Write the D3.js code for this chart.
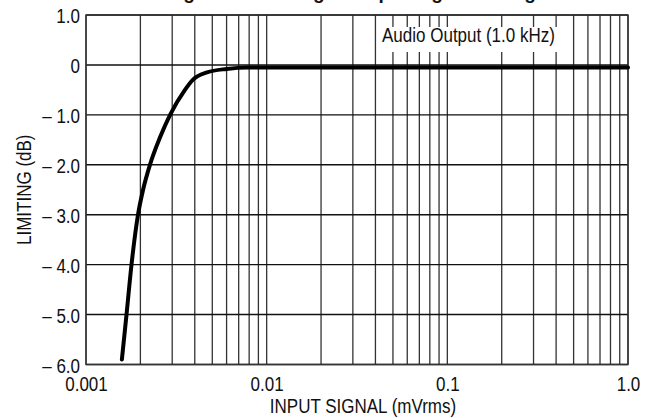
<!DOCTYPE html>
<html><head><meta charset="utf-8">
<script src="https://cdn.jsdelivr.net/npm/d3@7"></script>
<style>
html,body{margin:0;padding:0;background:#fff;}
svg{display:block;}
text{font-family:"Liberation Sans",Arial,sans-serif;fill:#111;}
</style></head>
<body>
<script>
// Data
const inputSignal = [0.00158, 0.001676, 0.001786, 0.00194, 0.00207, 0.00226, 0.00257, 0.00292, 0.00353, 0.0039, 0.00468, 0.006, 0.0078, 0.01, 0.1, 1.0];
const limitingDb  = [-5.9, -5.0, -4.0, -3.0, -2.5, -2.0, -1.45, -1.0, -0.5, -0.3, -0.15, -0.08, -0.05, -0.05, -0.05, -0.05];
const xTickValues = [0.001, 0.01, 0.1, 1.0];
const xTickLabels = ["0.001", "0.01", "0.1", "1.0"];
const yTickValues = [1, 0, -1, -2, -3, -4, -5, -6];
const yTickLabels = ["1.0", "0", "\u2013 1.0", "\u2013 2.0", "\u2013 3.0", "\u2013 4.0", "\u2013 5.0", "\u2013 6.0"];
const titleText = "Figure 5. Limiting vs. Input Signal Strength";
const annotation = "Audio Output (1.0 kHz)";
const xTitle = "INPUT SIGNAL (mVrms)";
const yTitle = "LIMITING (dB)";

const W = 649, H = 418;
const m = {left: 86, right: 649 - 628, top: 15, bottom: 418 - 364.5};
const svg = d3.select("body").append("svg").attr("width", W).attr("height", H);

const x = d3.scaleLog().domain([0.001, 1]).range([m.left, W - m.right]);
const y = d3.scaleLinear().domain([-6, 1]).range([H - m.bottom, m.top]);

// condensed look (Helvetica Condensed-like)
function condense(sel, k) {
  sel.each(function () {
    const l = this.getComputedTextLength();
    d3.select(this).attr("textLength", l * k).attr("lengthAdjust", "spacingAndGlyphs");
  });
}

// title (cut off at top in reference)
svg.append("text").attr("x", 360).attr("y", -1).attr("text-anchor", "middle")
  .style("font-weight", "bold").style("font-size", "19px").text(titleText);

// vertical grid: every 1..9 multiple per decade
const vGrid = [];
for (let d = 0.001; d < 1; d *= 10) for (let k = 1; k <= 9; k++) vGrid.push(d * k);
vGrid.push(1);
const grid = svg.append("g");
grid.selectAll("line.v").data(vGrid).enter().append("line")
  .attr("x1", d => x(d)).attr("x2", d => x(d))
  .attr("y1", y(1)).attr("y2", y(-6))
  .attr("stroke", "#333").attr("stroke-width", 1.3);
grid.selectAll("line.h").data(yTickValues).enter().append("line")
  .attr("x1", x(0.001)).attr("x2", x(1))
  .attr("y1", d => y(d)).attr("y2", d => y(d))
  .attr("stroke", "#111").attr("stroke-width", 1.4);

// frame
svg.append("rect").attr("x", x(0.001)).attr("y", y(1))
  .attr("width", x(1) - x(0.001)).attr("height", y(-6) - y(1))
  .attr("fill", "none").attr("stroke", "#333").attr("stroke-width", 1.4);

// axes with d3 axis generators (labels only)
const xAxis = d3.axisBottom(x).tickValues(xTickValues)
  .tickFormat((d, i) => xTickLabels[i]).tickSize(0).tickPadding(0);
const gx = svg.append("g").attr("transform", `translate(0,${y(-6)})`).call(xAxis);
gx.select(".domain").remove();
gx.selectAll("text").attr("dy", null).attr("y", 26.5)
  .style("font-size", "20px").style("font-family", null).attr("fill", "#111")
  .call(condense, 0.85);

const yAxis = d3.axisLeft(y).tickValues(yTickValues)
  .tickFormat((d, i) => yTickLabels[i]).tickSize(0).tickPadding(6);
const gy = svg.append("g").attr("transform", `translate(${x(0.001)},0)`).call(yAxis);
gy.select(".domain").remove();
gy.selectAll("text").attr("dy", "0.38em")
  .style("font-size", "20px").style("font-family", null).attr("fill", "#111")
  .call(condense, 0.85);

// axis titles
svg.append("text").attr("x", 363).attr("y", 413)
  .attr("text-anchor", "middle").style("font-size", "20px").text(xTitle)
  .call(condense, 0.85);
svg.append("text").attr("transform", `translate(31,${(y(1) + y(-6)) / 2}) rotate(-90)`)
  .attr("text-anchor", "middle").style("font-size", "20px").text(yTitle)
  .call(condense, 0.85);

// annotation with white background
const ann = svg.append("g");
const annText = ann.append("text").attr("x", 382).attr("y", 42)
  .style("font-size", "20px").text(annotation).call(condense, 0.85);
const bb = annText.node().getBBox();
ann.insert("rect", "text").attr("x", bb.x - 4).attr("y", 27)
  .attr("width", bb.width + 8).attr("height", 25).attr("fill", "#fff");

// curve
const pts = inputSignal.map((v, i) => [v, limitingDb[i]]);
const line = d3.line().x(d => x(d[0])).y(d => y(d[1])).curve(d3.curveMonotoneX);
svg.append("path").datum(pts).attr("d", line)
  .attr("fill", "none").attr("stroke", "#000").attr("stroke-width", 4)
  .attr("stroke-linecap", "round").attr("stroke-linejoin", "round");
</script>
</body></html>
